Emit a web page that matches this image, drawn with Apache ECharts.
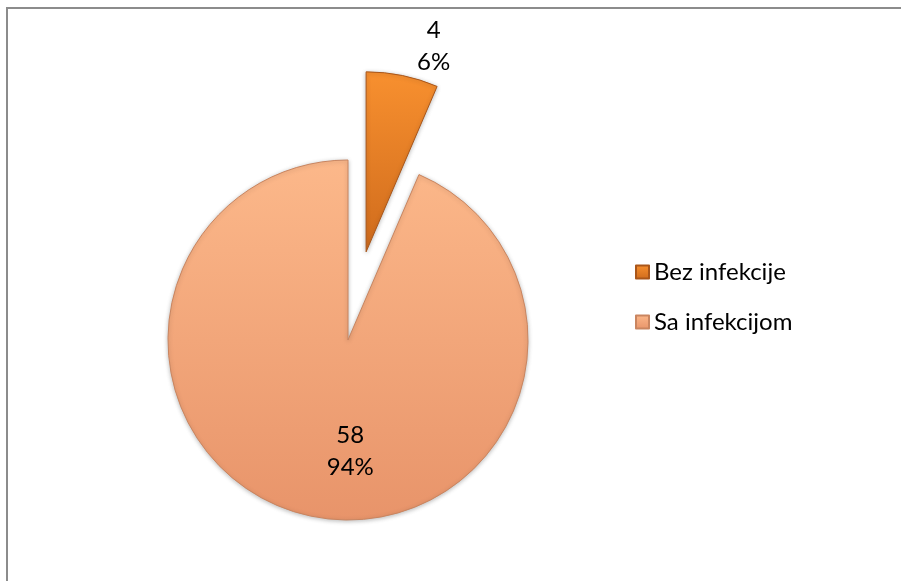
<!DOCTYPE html>
<html>
<head>
<meta charset="utf-8">
<script src="https://cdn.jsdelivr.net/npm/echarts@6/dist/echarts.min.js"></script>
<style>html,body{margin:0;padding:0;background:#fff}#c{width:901px;height:581px}</style>
</head>
<body>
<div id="c"></div>
<script>
const categories = ["Bez infekcije", "Sa infekcijom"];
const values = [4, 58];
const percents = ["6%", "94%"];

const chart = echarts.init(document.getElementById('c'), null, {renderer: 'canvas'});
const FONT = 'Lato';
const grad = (a, b) => new echarts.graphic.LinearGradient(0, 0, 0, 1, [{offset: 0, color: a}, {offset: 1, color: b}]);
const colors = [grad('#f8902f', '#cf6b1c'), grad('#fcb88a', '#e8946a')];
const borders = ['#a9561a', '#c98560'];
const labelShift = [[32, -116], [21, 20]];

const labelStyle = (i) => ({
  show: true,
  position: 'inside',
  formatter: values[i] + '\n' + percents[i],
  color: '#000',
  fontFamily: FONT,
  fontSize: 24,
  lineHeight: 32
});

const data = categories.map((name, i) => ({
  name: name,
  value: values[i],
  selected: i === 0,
  itemStyle: {color: colors[i], borderColor: borders[i], borderWidth: 1},
  label: labelStyle(i),
  select: {label: labelStyle(i), itemStyle: {color: colors[i], borderColor: borders[i], borderWidth: 1}}
}));

chart.setOption({
  animation: false,
  backgroundColor: '#fff',
  graphic: [{
    type: 'rect',
    shape: {x: 7, y: 8, width: 1200, height: 1200},
    style: {fill: 'none', stroke: '#8c8c8c', lineWidth: 2},
    silent: true
  }],
  legend: {
    orient: 'vertical',
    left: 635,
    top: 259,
    padding: 0,
    itemWidth: 13,
    itemHeight: 13,
    itemGap: 24,
    icon: 'rect',
    textStyle: {fontFamily: FONT, fontSize: 24, lineHeight: 26, color: '#000'},
    data: categories
  },
  series: [{
    type: 'pie',
    center: [348, 340],
    radius: [0, 180],
    startAngle: 90,
    clockwise: true,
    selectedMode: 'single',
    selectedOffset: 90,
    avoidLabelOverlap: false,
    labelLine: {show: false},
    emphasis: {disabled: true},
    labelLayout: function (p) {
      return {dx: labelShift[p.dataIndex][0], dy: labelShift[p.dataIndex][1]};
    },
    itemStyle: {shadowBlur: 4, shadowColor: 'rgba(0,0,0,0.25)', shadowOffsetY: 1},
    data: data
  }]
});
</script>
</body>
</html>
